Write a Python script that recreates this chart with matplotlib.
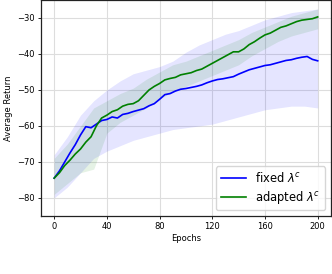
import matplotlib

matplotlib.use("Agg")

import matplotlib.pyplot as plt
import numpy as np

# mean curves, sampled every 4 epochs
epochs = list(range(0, 201, 4))
fixed_mean = [
    -74.5, -72.5, -70.0, -67.5, -65.2, -62.5, -60.2, -60.5, -59.5, -58.5,
    -58.2, -57.5, -57.8, -56.8, -56.5, -56.0, -55.6, -55.2, -54.4, -53.8,
    -52.6, -51.3, -51.0, -50.3, -49.8, -49.6, -49.3, -49.0, -48.6, -48.0,
    -47.5, -47.1, -46.9, -46.6, -46.3, -45.6, -45.0, -44.4, -44.0, -43.6,
    -43.2, -43.0, -42.6, -42.2, -41.8, -41.6, -41.2, -40.9, -40.7, -41.5,
    -41.9,
]
adapted_mean = [
    -74.5, -73.0, -71.0, -69.5, -67.8, -66.4, -64.5, -63.0, -60.0, -57.8,
    -57.0, -56.0, -55.5, -54.5, -54.0, -53.8, -53.0, -51.5, -50.0, -49.0,
    -48.2, -47.2, -46.8, -46.5, -45.8, -45.5, -45.2, -44.6, -44.2, -43.4,
    -42.6, -41.8, -41.0, -40.2, -39.4, -39.4, -38.6, -37.4, -36.6, -35.6,
    -34.7, -34.2, -33.4, -32.6, -32.2, -31.6, -31.0, -30.6, -30.4, -30.2,
    -29.7,
]

# spread bands, sampled every 10 epochs
band_epochs = list(range(0, 201, 10))
fixed_upper = [-68, -63, -57, -53, -50, -47.5, -45.5, -44.5, -43.5, -42, -39.5,
               -37.5, -36, -34.5, -33.5, -32, -30.5, -29.5, -28.5, -28, -27.5]
fixed_lower = [-80, -77, -73, -69, -67, -65.5, -64, -63, -62, -61, -60.5,
               -60, -59.5, -58.5, -57.5, -56.5, -55.5, -55, -54.5, -54.5, -55]
adapted_upper = [-69, -65, -60, -55, -53, -51, -49.5, -47, -45, -43, -42,
                 -40.5, -39, -37.5, -36, -34, -32.5, -31, -29.5, -28.5, -27.5]
adapted_lower = [-79, -76, -73, -72, -62, -59, -57, -55, -52.5, -50.5, -49,
                 -47.5, -46, -44.5, -43, -40.5, -38.5, -36.5, -35, -34, -33]

plt.rcParams["font.family"] = "DejaVu Sans"

fig = plt.figure(figsize=(3.32, 2.74), dpi=100)
ax = fig.add_axes([0.1235, 0.212, 0.873, 0.788])

ax.fill_between(band_epochs, fixed_lower, fixed_upper, color="blue", alpha=0.1, linewidth=0)
ax.fill_between(band_epochs, adapted_lower, adapted_upper, color="green", alpha=0.1, linewidth=0)
ax.plot(epochs, fixed_mean, color="blue", linewidth=1.2, label=r"fixed $\lambda^c$")
ax.plot(epochs, adapted_mean, color="green", linewidth=1.2, label=r"adapted $\lambda^c$")

ax.set_xlim(-10, 210)
ax.set_ylim(-85, -25)
ax.set_xticks([0, 40, 80, 120, 160, 200])
ax.set_yticks([-80, -70, -60, -50, -40, -30])
ax.tick_params(labelsize=6, length=2.5, width=0.6, pad=2)
ax.grid(True, color="#dddddd", linewidth=0.8)
ax.set_axisbelow(True)
for spine in ax.spines.values():
    spine.set_color("#222222")
    spine.set_linewidth(0.9)

ax.set_xlabel("Epochs", fontsize=6, labelpad=2)
ax.set_ylabel("Average Return", fontsize=6, labelpad=3)
ax.legend(loc="lower right", fontsize=8.3, handlelength=2.2, framealpha=0.8,
          borderpad=0.4, labelspacing=0.3)

# caption of the page, cut by the bottom edge as in the source
fig.text(0.0, -4 / 274, "Figure 3: Perf", fontsize=19.5,
         family="Liberation Serif", va="top", ha="left")

fig.savefig("out.png", dpi=100)
